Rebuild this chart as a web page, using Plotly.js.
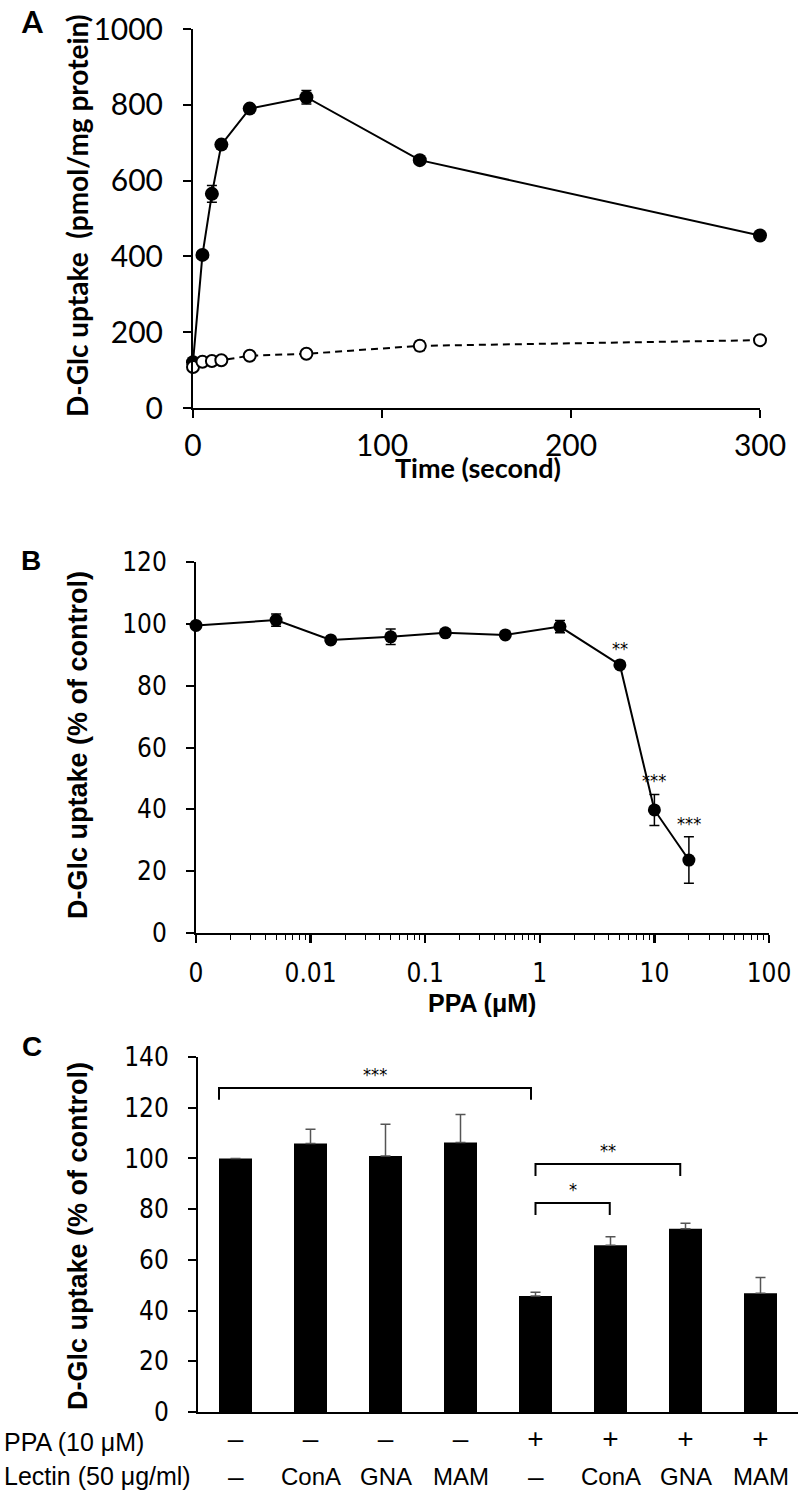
<!DOCTYPE html>
<html>
<head>
<meta charset="utf-8">
<script src="https://cdn.plot.ly/plotly-3.0.1.min.js"></script>
<style>
html,body{margin:0;padding:0;background:#fff;}
#chart{width:801px;height:1497px;}
</style>
</head>
<body>
<div id="chart"></div>
<script>
// ---------- Panel A data ----------
const timeSec = [0, 5, 10, 15, 30, 60, 120, 300];
const uptakeFilled = [121, 404, 565, 695, 790, 820, 654, 455];
const uptakeFilledErr = [5, 8, 22, 10, 8, 18, 8, 8];
const uptakeOpen = [108, 122, 124, 126, 138, 143, 164, 179];
const uptakeOpenErr = [3, 3, 3, 3, 4, 5, 12, 6];
const timeTicks = [0, 100, 200, 300];

// ---------- Panel B data ----------
const ppaConc = [0, 0.005, 0.015, 0.05, 0.15, 0.5, 1.5, 5, 10, 20];
const ppaUptake = [99.5, 101.2, 94.8, 95.8, 97.1, 96.4, 99.1, 86.7, 39.8, 23.6];
const ppaErr = [0.8, 2, 0.8, 2.5, 0.8, 0.8, 2, 0.8, 5, 7.5];
const ppaSig = ['', '', '', '', '', '', '', '**', '***', '***'];
const ppaTickVals = [0.001, 0.01, 0.1, 1, 10, 100];
const ppaTickText = ['0', '0.01', '0.1', '1', '10', '100'];
const zeroPos = 0.001; // position where concentration 0 is drawn on the log axis

// ---------- Panel C data ----------
const ppaRow = ['–', '–', '–', '–', '+', '+', '+', '+'];
const lectinRow = ['–', 'ConA', 'GNA', 'MAM', '–', 'ConA', 'GNA', 'MAM'];
const lectinUptake = [100, 105.9, 101, 106.3, 45.7, 65.8, 72.3, 46.8];
const lectinErr = [0, 5.6, 12.5, 11, 1.5, 3.3, 2.1, 6.2];
const bracketFrom = [-0.22, 4.0, 4.0];
const bracketTo = [3.94, 5.93, 4.99];
const bracketY = [127.8, 97.8, 82.4];
const bracketLeg = 4.7;
const bracketLabel = ['***', '**', '*'];

// ---------- helpers ----------
const W = 801, H = 1497;
const fx = p => p / W;
const fy = p => 1 - p / H;
const CAL = 'Lato, "Open Sans", sans-serif';
const NAR = '"Liberation Sans Narrow", "Arial Narrow", "DejaVu Sans Condensed", "Liberation Sans", sans-serif';
const ARB = '"Liberation Sans", Arial, sans-serif';

const idx = lectinRow.map((_, i) => i);
const traces = [];

// Panel A
traces.push({
  x: timeSec, y: uptakeFilled, xaxis: 'x', yaxis: 'y', type: 'scatter', mode: 'lines+markers',
  line: {color: '#000', width: 2},
  marker: {symbol: 'circle', size: 14, color: '#000'},
  error_y: {type: 'data', array: uptakeFilledErr, visible: true, color: '#000', thickness: 1.5, width: 5},
  cliponaxis: false
});
traces.push({
  x: timeSec, y: uptakeOpen, xaxis: 'x', yaxis: 'y', type: 'scatter', mode: 'lines+markers',
  line: {color: '#000', width: 2, dash: '7px,5px'},
  marker: {symbol: 'circle', size: 12, color: '#fff', line: {color: '#000', width: 2}},
  error_y: {type: 'data', array: uptakeOpenErr, visible: true, color: '#000', thickness: 1.5, width: 5},
  cliponaxis: false
});

// Panel B
const ppaPos = ppaConc.map(c => c === 0 ? zeroPos : c);
traces.push({
  x: ppaPos, y: ppaUptake, xaxis: 'x2', yaxis: 'y2', type: 'scatter', mode: 'lines+markers',
  line: {color: '#000', width: 2},
  marker: {symbol: 'circle', size: 13, color: '#000'},
  error_y: {type: 'data', array: ppaErr, visible: true, color: '#000', thickness: 1.5, width: 5},
  cliponaxis: false
});

// Panel C
traces.push({
  x: idx, y: lectinUptake, xaxis: 'x3', yaxis: 'y3', type: 'bar', width: 0.44,
  marker: {color: '#000', line: {width: 0}},
  error_y: {type: 'data', symmetric: false, array: lectinErr, arrayminus: lectinErr.map(() => 0),
            visible: true, color: '#555', thickness: 1.5, width: 5}
});
bracketFrom.forEach((f, i) => {
  traces.push({
    x: [f, f, bracketTo[i], bracketTo[i]],
    y: [bracketY[i] - bracketLeg, bracketY[i], bracketY[i], bracketY[i] - bracketLeg],
    xaxis: 'x3', yaxis: 'y3', type: 'scatter', mode: 'lines',
    line: {color: '#000', width: 2}, hoverinfo: 'skip'
  });
});

const annotations = [];
function note(o) {
  annotations.push(Object.assign({xref: 'paper', yref: 'paper', xanchor: 'center', yanchor: 'middle',
    showarrow: false}, o));
}
// panel letters
note({text: '<b>A</b>', x: fx(32), y: fy(21), font: {family: CAL, size: 30, color: '#000'}});
note({text: '<b>B</b>', x: fx(31), y: fy(560), font: {family: ARB, size: 28, color: '#000'}});
note({text: '<b>C</b>', x: fx(32), y: fy(1046), font: {family: ARB, size: 28, color: '#000'}});
// axis titles
note({text: '<b>D-Glc uptake  (pmol/mg protein)</b>', textangle: -90, x: fx(77), y: fy(216),
  font: {family: CAL, size: 28, color: '#000'}});
note({text: '<b>Time (second)</b>', x: fx(478), y: fy(468), font: {family: CAL, size: 27, color: '#000'}});
note({text: '<b>D-Glc uptake (% of control)</b>', textangle: -90, x: fx(78), y: fy(745),
  font: {family: ARB, size: 27, color: '#000'}});
note({text: '<b>PPA (μM)</b>', x: fx(482), y: fy(1003), font: {family: ARB, size: 25, color: '#000'}});
note({text: '<b>D-Glc uptake (% of control)</b>', textangle: -90, x: fx(78), y: fy(1236),
  font: {family: ARB, size: 27, color: '#000'}});
// significance in B
ppaSig.forEach((s, i) => {
  if (!s) return;
  note({text: s, x: Math.log10(ppaPos[i]), y: ppaUptake[i] + ppaErr[i], xref: 'x2', yref: 'y2',
    yanchor: 'bottom', yshift: 1, font: {family: NAR, size: 18, color: '#000'}});
});
// bracket labels in C
bracketLabel.forEach((s, i) => {
  note({text: s, x: (bracketFrom[i] + bracketTo[i]) / 2, y: bracketY[i], xref: 'x3', yref: 'y3',
    yanchor: 'bottom', yshift: 1, font: {family: NAR, size: 18, color: '#000'}});
});
// row labels in C
note({text: 'PPA (10 μM)', x: 0.003, xanchor: 'left', y: fy(1442), font: {family: ARB, size: 25, color: '#000'}});
note({text: 'Lectin (50 μg/ml)', x: 0.003, xanchor: 'left', y: fy(1476), font: {family: ARB, size: 25, color: '#000'}});
lectinRow.forEach((s, i) => {
  note({text: s, x: i, y: fy(1476), xref: 'x3', font: {family: ARB, size: s === '–' ? 28 : 24, color: '#000'}});
});

// minor tick positions for log axis (2..9 in each decade)
const minorVals = [];
for (let d = -3; d < 2; d++) for (let m = 2; m <= 9; m++) minorVals.push(m * Math.pow(10, d));

const axBase = {showline: true, linecolor: '#000', linewidth: 2, showgrid: false, zeroline: false,
  ticks: 'outside', tickcolor: '#000', tickwidth: 2, ticklen: 8, fixedrange: true};

const layout = {
  width: W, height: H, margin: {l: 0, r: 0, t: 0, b: 0},
  paper_bgcolor: '#fff', plot_bgcolor: '#fff', showlegend: false,
  xaxis: Object.assign({}, axBase, {domain: [fx(193), fx(760)], range: [0, 300], anchor: 'y',
    tickmode: 'array', tickvals: timeTicks, ticklabelstandoff: 2,
    tickfont: {family: CAL, size: 30, color: '#000'}}),
  yaxis: Object.assign({}, axBase, {domain: [fy(408), fy(29)], range: [0, 1000], anchor: 'x',
    dtick: 200, ticklabelstandoff: 14, tickfont: {family: CAL, size: 30, color: '#000'}}),
  xaxis2: Object.assign({}, axBase, {type: 'log', domain: [fx(196), fx(769)], range: [-3, 2], anchor: 'y2',
    tickmode: 'array', tickvals: ppaTickVals, ticktext: ppaTickText, ticklen: 8, tickwidth: 2.5,
    ticklabelstandoff: 8,
    minor: {tickmode: 'array', tickvals: minorVals, ticks: 'outside', ticklen: 5, tickwidth: 1, tickcolor: '#000', showgrid: false},
    tickfont: {family: NAR, size: 26, color: '#000'}}),
  yaxis2: Object.assign({}, axBase, {domain: [fy(933), fy(562)], range: [0, 120], anchor: 'x2',
    dtick: 20, ticklabelstandoff: 14, tickfont: {family: NAR, size: 26, color: '#000'}}),
  xaxis3: Object.assign({}, axBase, {domain: [fx(198), fx(798)], range: [-0.5, 7.5], anchor: 'y3',
    tickmode: 'array', tickvals: idx, ticktext: ppaRow, ticks: '', ticklabelstandoff: 0,
    tickfont: {family: ARB, size: 28, color: '#000'}}),
  yaxis3: Object.assign({}, axBase, {domain: [fy(1412), fy(1057)], range: [0, 140], anchor: 'x3',
    dtick: 20, ticklabelstandoff: 14, tickfont: {family: NAR, size: 26, color: '#000'}}),
  annotations: annotations
};

Plotly.newPlot('chart', traces, layout, {staticPlot: true, displayModeBar: false});
</script>
</body>
</html>
